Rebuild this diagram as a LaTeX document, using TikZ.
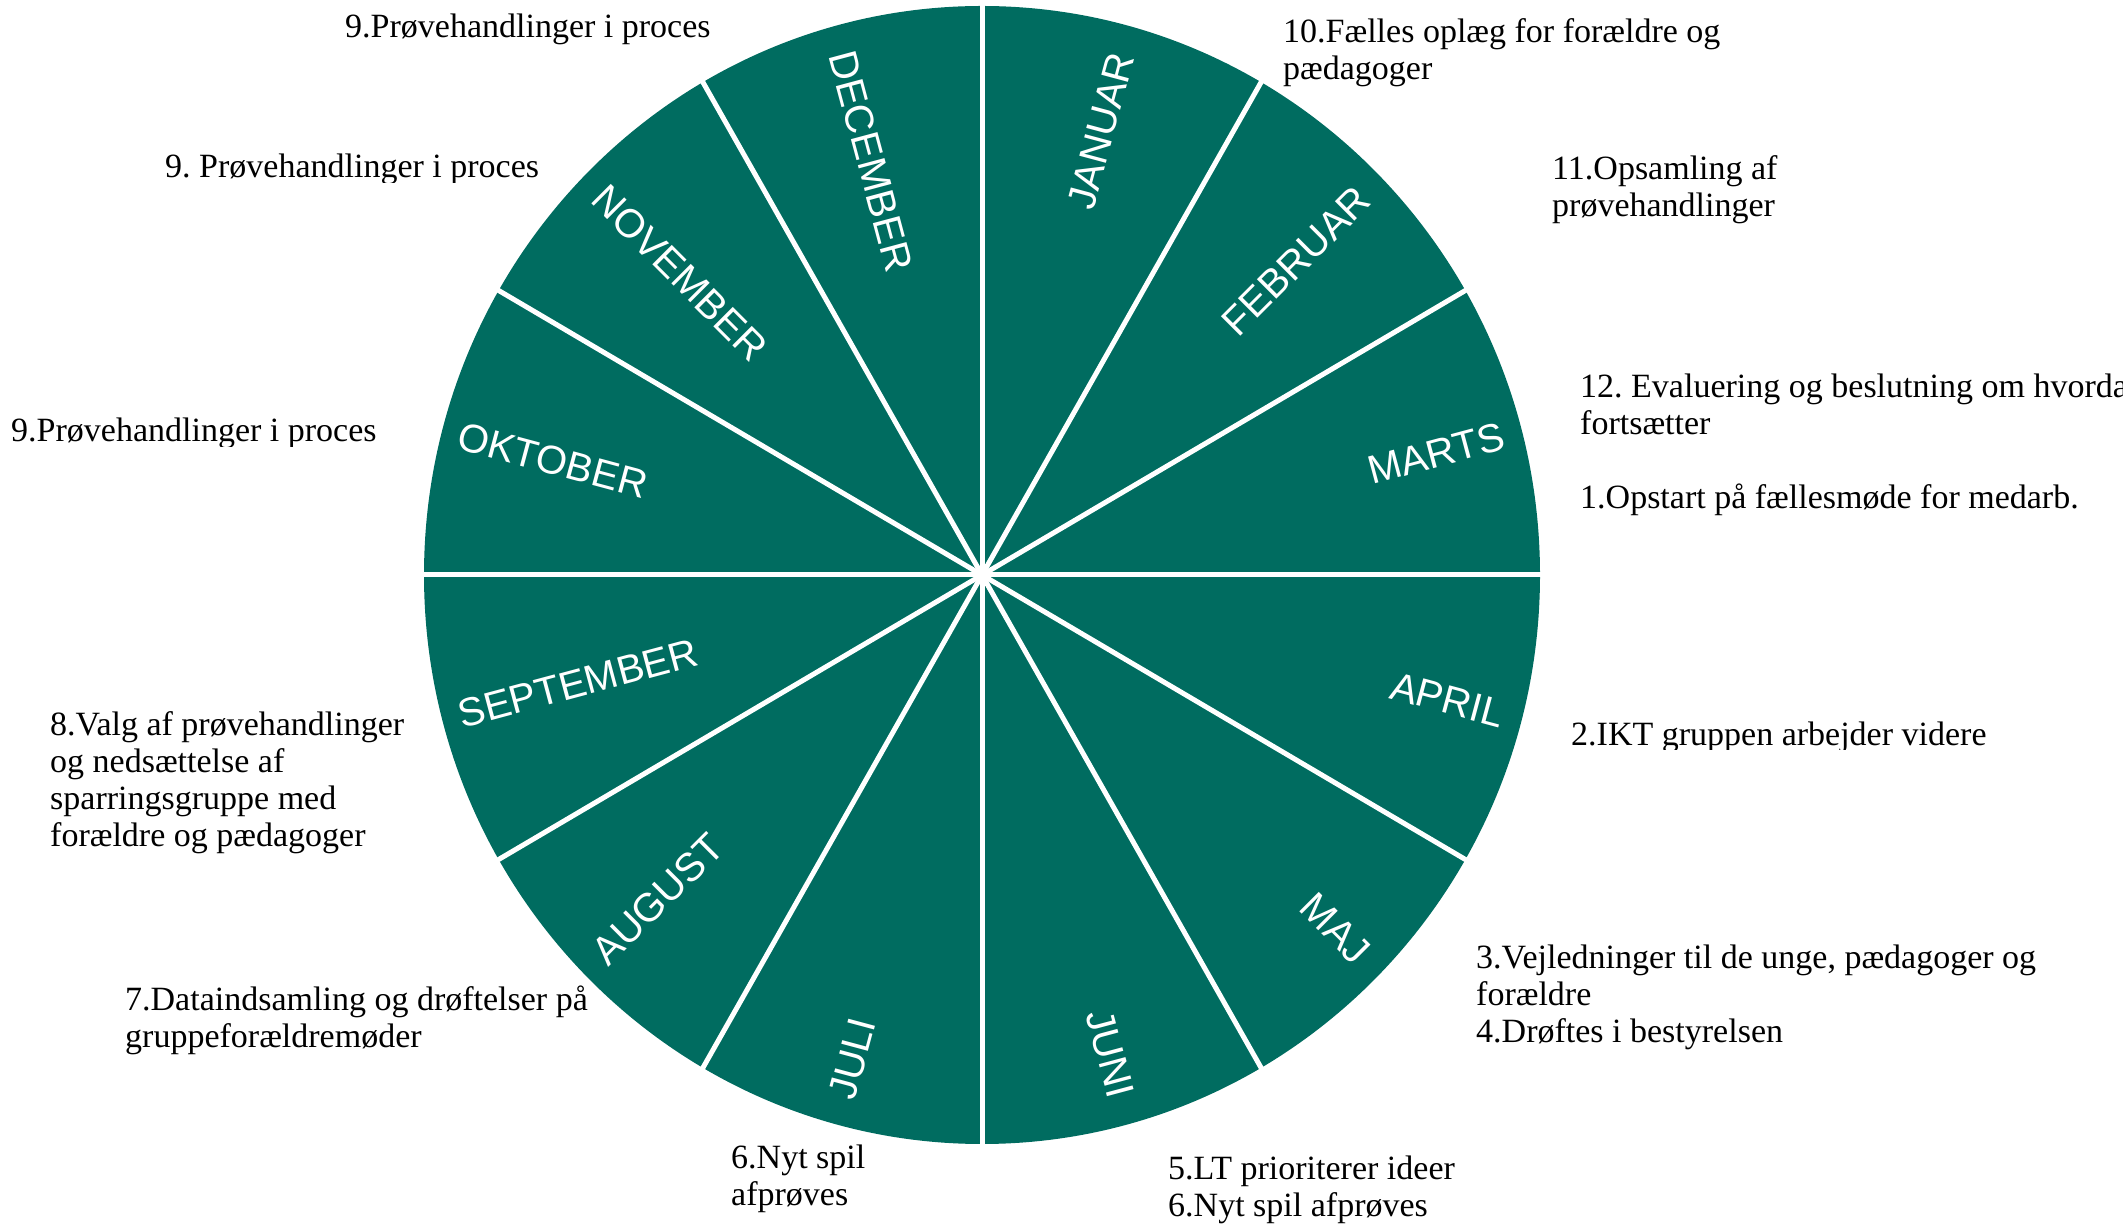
\documentclass[tikz,border=0pt]{standalone}
\usepackage{fontspec}
\setmainfont{Liberation Serif}
\setsansfont{Liberation Sans}
\definecolor{wheel}{RGB}{0,108,96}
\frenchspacing
\begin{document}
\begin{tikzpicture}[x=1pt,y=1pt,
  note/.style={font=\fontsize{34}{37}\selectfont, inner sep=0pt, align=left, anchor=base west},
  month/.style={font=\sffamily\fontsize{40}{40}\selectfont, text=white, inner sep=0pt},
  spoke/.style={white, line width=5pt}]
\useasboundingbox (0,0) rectangle (2123,1227);
\clip (0,0) rectangle (2123,1227);
\coordinate (C) at (982,652);
\fill[wheel] (C) ellipse [x radius=558, y radius=569];
\foreach \a in {0,30,...,330} \draw[spoke] (C) -- ++(\a:566 and 577);
% month labels, right half (reading outward)
\foreach \a/\m/\n in {75/JANUAR/jan,45/FEBRUAR/feb,15/MARTS/mar,-15/APRIL/apr,-45/MAJ/maj,-75/JUNI/jun}
  \node[month, rotate=\a, anchor=east] (\n) at ([shift={(\a:540)}]C) {\m};
% month labels, left half (reading inward)
\foreach \a/\r/\m/\n in {105/-75/DECEMBER/dec,135/-45/NOVEMBER/nov,165/-15/OKTOBER/okt,195/15/SEPTEMBER/sep,225/45/AUGUST/aug,255/75/JULI/jul}
  \node[month, rotate=\r, anchor=west] (\n) at ([shift={(\a:542)}]C) {\m};
% notes (base anchor = baseline of the last line)
\node[note] (t1) at (345,1189) {9.Prøvehandlinger i proces};
\begin{scope}
  \clip (0,1044) rectangle (900,1227);
  \node[note] (t2) at (165,1049) {9. Prøvehandlinger i proces};
\end{scope}
\begin{scope}
  \clip (0,780) rectangle (900,900);
  \node[note] (t3) at (11,785) {9.Prøvehandlinger i proces};
\end{scope}
\node[note] (t4) at (1283,1147) {10.Fælles oplæg for forældre og\\pædagoger};
\node[note] (t5) at (1552,1010) {11.Opsamling af\\prøvehandlinger};
\node[note] (t6) at (1580,792) {12. Evaluering og beslutning om hvorda\\fortsætter};
\node[note] (t7) at (1580,718) {1.Opstart på fællesmøde for medarb.};
\begin{scope}
  \clip (1500,477) rectangle (2123,600);
  \node[note] (t8) at (1571,481) {2.IKT gruppen arbejder videre};
\end{scope}
\node[note] (t9) at (1476,185) {3.Vejledninger til de unge, pædagoger og\\forældre\\4.Drøftes i bestyrelsen};
\node[note] (t10) at (1168,11) {5.LT prioriterer ideer\\6.Nyt spil afprøves};
\node[note] (t11) at (731,22) {6.Nyt spil\\afprøves};
\node[note] (t12) at (125,180) {7.Dataindsamling og drøftelser på\\gruppeforældremøder};
\node[note] (t13) at (50,380) {8.Valg af prøvehandlinger\\og nedsættelse af\\sparringsgruppe med\\forældre og pædagoger};
\end{tikzpicture}
\end{document}
